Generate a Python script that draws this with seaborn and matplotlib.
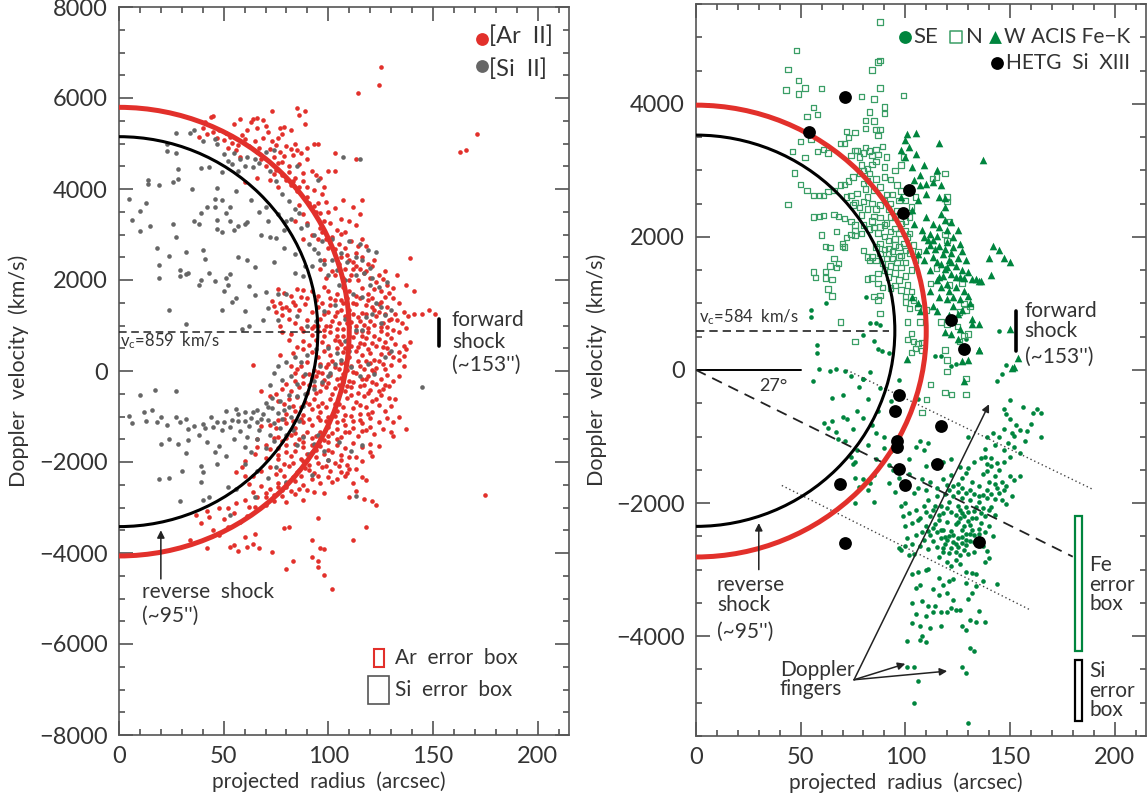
import matplotlib
matplotlib.use("Agg")
import matplotlib.pyplot as plt
import pandas as pd
import seaborn as sns
from matplotlib.patches import Ellipse, Rectangle
from matplotlib.ticker import MultipleLocator

sns.set_style("white")
plt.rcParams["font.family"] = ["Lato", "DejaVu Sans"]
plt.rcParams["mathtext.default"] = "regular"

# (projected radius arcsec, doppler km/s)
ar_points = [
    (41,5480),(44,5590),(45,5600),(40,5350),(38,5150),(42,5200),(45,5250),(48,5300),(50,5080),(53,5150),(55,5420),
    (60,5100),(62,4950),(58,5540),(63,5480),(61,5300),(64,5530),(66,5340),(66,5560),(69,5520),(70,5380),(71,5250),
    (73,5050),(76,5120),(78,5200),(79,5360),(80,4950),(84,5000),(85,4850),(87,4800),(90,4900),(93,5000),(95,4980),
    (85,5780),(86,5620),(89,5720),(89,5420),(82,5300),(73,5710),(77,5350),(103,4800),(113,4650),(103,4400),(90,4650),
    (125,6680),(124,6290),(114,6110),(171,5200),(163,4810),(166,4855),(52,4900),(56,4850),(58,4700),(66,4820),(68,4650),
    (70,4500),(72,4880),(74,4700),(75,4420),(78,4600),(78,4300),(81,4500),(83,4750),(84,4250),(86,4550),(88,4350),
    (92,4400),(94,4300),(96,4250),(98,4050),(100,4400),(97,3900),(95,3700),(93,3980),(90,4050),(85,3950),(82,4080),
    (80,4200),(76,4050),(72,4200),(66,4250),(60,4150),(107,3750),(116,3750),(115,3450),(112,3600),(103,3580),(106,3350),
    (110,3300),(113,3200),(108,3050),(104,3100),(100,3500),(98,3300),(96,3150),(94,3500),(91,3700),(88,3450),(86,3650),
    (84,3300),(90,3250),(102,2950),(105,2800),(108,2700),(111,2850),(113,2600),(116,2900),(118,2750),(100,2700),(98,2450),
    (95,2900),(92,3000),(88,2900),(110,2450),(113,2300),(116,2500),(119,2350),(122,2450),(124,2100),(127,2200),(120,2050),
    (117,2150),(114,2000),(111,2100),(108,2250),(105,2350),(102,2200),(99,2050),(96,2250),(133,2100),(137,1900),(139,2480),
    (141,1760),(131,1830),(128,1880),(125,1750),(122,1800),(119,1700),(116,1820),(113,1650),(110,1750),(107,1850),(104,1700),
    (101,1600),(98,1850),(95,1650),(92,1750),(88,1780),(85,1800),(82,1650),(79,1720),(76,1800),(73,1530),(74,1420),(77,1500),
    (80,1400),(83,1520),(86,1350),(89,1480),(92,1300),(95,1400),(98,1250),(101,1450),(104,1300),(107,1500),(110,1350),
    (113,1480),(116,1280),(119,1550),(122,1350),(125,1520),(128,1400),(131,1600),(134,1500),(136,1300),(138,1200),(141,1260),
    (145,1260),(148,1330),(151,1250),(132,1250),(129,1130),(126,1050),(123,1200),(120,1100),(117,1020),(114,1180),(111,1080),
    (108,1200),(105,1050),(102,1100),(99,980),(96,1150),(93,1000),(90,1120),(87,950),(84,1050),(81,1150),(78,1230),(75,1300),
    (77,980),(78,860),(82,820),(88,870),(92,800),(95,870),(98,900),(101,850),(104,780),(107,920),(110,960),(113,850),
    (116,880),(119,950),(122,780),(125,870),(128,960),(131,900),(134,850),(137,950),(130,720),(127,640),(124,700),(121,620),
    (118,720),(115,620),(112,750),(109,680),(106,600),(103,690),(100,560),(97,630),(94,680),(91,580),(88,650),(85,520),
    (81,680),(77,350),(83,400),(88,480),(92,410),(95,300),(98,450),(101,350),(104,500),(107,420),(110,300),(113,450),(116,350),
    (119,480),(122,250),(125,380),(128,500),(131,310),(134,420),(136,320),(136,550),(139,640),(137,480),(136,100),(126,160),
    (123,60),(120,180),(117,50),(114,230),(111,100),(108,180),(105,40),(102,220),(99,80),(96,150),(93,20),(90,200),(87,100),
    (64,140),(84,-40),(88,-110),(92,-150),(95,-30),(98,-200),(101,-90),(104,-170),(107,-60),(110,-210),(113,-40),(116,-180),
    (119,-100),(122,-30),(125,-170),(128,-80),(131,-230),(134,-110),(129,-320),(126,-400),(123,-280),(120,-420),(117,-310),
    (114,-480),(111,-350),(108,-440),(105,-300),(102,-510),(99,-360),(96,-430),(93,-330),(90,-480),(86,-350),(82,-430),(78,-400),
    (75,-500),(68,-430),(72,-560),(76,-660),(81,-620),(85,-580),(89,-680),(93,-620),(97,-700),(101,-620),(105,-720),(109,-600),
    (113,-680),(117,-560),(121,-650),(125,-530),(129,-590),(132,-620),(130,-770),(127,-870),(124,-750),(121,-900),(118,-800),
    (115,-950),(112,-820),(108,-960),(104,-870),(100,-1000),(96,-900),(92,-830),(88,-970),(84,-880),(80,-940),(76,-1080),
    (72,-1190),(68,-1210),(75,-1250),(80,-1150),(84,-1260),(88,-1120),(92,-1190),(96,-1080),(100,-1220),(104,-1130),(108,-1190),
    (112,-1090),(116,-1150),(120,-1040),(124,-1110),(128,-1030),(131,-1130),(134,-1000),(130,-1340),(126,-1280),(122,-1380),
    (118,-1300),(114,-1420),(110,-1340),(106,-1450),(102,-1370),(98,-1510),(94,-1420),(90,-1350),(86,-1490),(82,-1410),(78,-1540),
    (74,-1480),(66,-1500),(66,-1680),(70,-1620),(76,-1700),(80,-1630),(84,-1750),(88,-1660),(92,-1770),(96,-1650),(100,-1740),
    (104,-1620),(108,-1700),(112,-1590),(116,-1680),(120,-1600),(124,-1650),(131,-1420),(137,-1280),(120,-1790),(121,-1860),
    (113,-1880),(106,-1840),(100,-1950),(94,-1900),(88,-1980),(82,-1870),(76,-1940),(70,-1920),(65,-1830),(60,-1970),(56,-2230),
    (59,-2120),(60,-2310),(64,-2300),(68,-2200),(72,-2110),(77,-2180),(81,-2090),(85,-2230),(89,-2140),(93,-2250),(97,-2120),
    (101,-2200),(105,-2090),(109,-2240),(113,-2160),(116,-2330),(118,-2400),(112,-2470),(108,-2310),(104,-2380),(100,-2320),
    (96,-2460),(92,-2380),(88,-2500),(84,-2410),(80,-2550),(76,-2470),(72,-2590),(68,-2520),(64,-2650),(62,-2480),(78,-2750),
    (84,-2700),(88,-2830),(93,-2660),(98,-2690),(110,-2760),(113,-2630),(117,-2810),(121,-2850),(123,-2950),(80,-2880),(74,-2860),
    (70,-2950),(65,-2980),(60,-2830),(56,-2900),(52,-3020),(48,-3000),(42,-3080),(37,-3170),(43,-3200),(55,-3130),(61,-3190),
    (58,-3320),(50,-3260),(39,-3330),(45,-3500),(52,-3430),(48,-3600),(34,-3710),(42,-3880),(55,-3820),(60,-3650),(65,-3590),
    (53,-3870),(57,-3950),(61,-3870),(64,-3810),(67,-3880),(73,-3980),(79,-3460),(81,-3430),(95,-3240),(92,-3720),(96,-3900),
    (98,-3910),(92,-4090),(95,-4180),(95,-4310),(83,-4180),(80,-4360),(98,-4490),(102,-4790),(112,-3720),(118,-3420),(175,-2725),
]
ar_dense = [
    (47,5120),(51,5240),(54,5020),(57,4960),(59,5190),(65,5060),(67,4900),(69,5110),(75,4960),(77,4820),(82,4880),(79,4720),(76,4580),
    (74,4340),(81,4380),(83,4180),(86,4050),(88,4180),(90,3820),(93,3620),(96,3480),(99,3720),(101,3250),(97,3050),(99,2900),(103,2680),
    (106,3020),(109,2550),(112,2400),(114,2750),(106,2500),(103,2100),(107,2050),(110,2000),(112,2250),(115,2250),(118,2200),(121,2300),
    (123,1950),(126,2020),(129,1720),(127,1620),(124,1480),(121,1600),(118,1450),(115,1600),(112,1500),(109,1600),(106,1550),(103,1550),
    (100,1750),(97,1500),(94,1550),(90,1600),(87,1620),(84,1450),(81,1350),(78,1380),(100,1300),(103,1200),(106,1350),(109,1050),(112,1250),
    (115,1100),(118,1250),(121,1400),(124,1300),(127,1250),(130,1150),(133,1120),(135,1050),(128,820),(125,960),(122,1020),(119,850),(116,770),
    (113,1000),(110,780),(107,780),(104,930),(101,1000),(98,780),(95,1000),(92,950),(105,650),(108,500),(111,550),(114,520),(117,600),(120,400),
    (123,550),(126,520),(129,400),(132,600),(134,250),(130,130),(127,50),(124,230),(121,30),(118,230),(115,120),(112,-20),(109,30),(106,170),
    (103,80),(100,160),(97,-50),(94,-100),(91,-70),(85,40),(82,120),(127,-300),(124,-450),(121,-250),(118,-180),(115,-320),(112,-250),(109,-330),
    (106,-160),(103,-380),(100,-270),(97,-280),(94,-480),(91,-300),(88,-260),(84,-230),(80,-280),(123,-620),(119,-480),(115,-750),(111,-520),
    (107,-800),(103,-720),(99,-800),(95,-760),(91,-730),(87,-800),(83,-760),(79,-720),(119,-950),(115,-1080),(111,-980),(107,-1080),(103,-980),
    (99,-1100),(95,-1000),(91,-1060),(87,-1060),(83,-1100),(79,-1050),(120,-1220),(116,-1320),(112,-1250),(108,-1350),(104,-1280),(100,-1420),
    (96,-1340),(92,-1480),(88,-1420),(84,-1370),(80,-1480),(76,-1450),(104,-1500),(100,-1560),(96,-1500),(92,-1620),(88,-1560),(84,-1610),
    (80,-1780),(76,-1840),(72,-1720),(90,-1830),(94,-1730),(98,-1830),(102,-1780),(106,-1950),(110,-1900),(116,-1980),(109,-2060),(103,-2020),
    (99,-2090),(95,-2020),(91,-2070),(87,-1930),(83,-2020),(79,-2050),(75,-2270),(79,-2300),(83,-2340),(87,-2310),(91,-2180),(95,-2310),(102,-2430),
    (106,-2220),(110,-2150),(90,-2620),(86,-2600),(82,-2640),(78,-2620),(74,-2720),(70,-2680),(76,-2560),(80,-2460),(66,-2770),(70,-2780),(62,-2980),
]
si_points = [
    (23,5000),(27,5230),(34,5230),(36,5290),(23,4830),(27,4800),(40,5060),(46,5100),(47,5000),(50,4780),(55,4800),(58,4650),
    (60,4500),(65,4650),(67,4580),(70,4820),(74,4850),(85,4500),(95,4200),(107,4700),(115,4650),(28,4450),(39,4460),(43,4490),
    (49,4380),(14,4200),(14,4120),(19,4080),(28,4220),(26,4150),(35,4000),(47,4030),(56,3950),(13,3700),(5,3780),(10,3510),
    (6,3320),(15,3180),(10,3080),(26,3220),(39,3470),(42,3600),(46,3600),(46,3780),(49,3760),(51,3470),(53,3600),(36,3290),
    (38,3240),(47,3320),(47,3120),(49,3060),(53,3300),(57,3180),(60,3230),(61,3280),(55,3100),(63,3760),(67,3500),(71,3300),
    (70,3600),(76,3460),(80,3300),(68,3000),(72,2950),(75,2920),(79,3100),(82,3350),(86,3480),(90,3200),(93,3000),(27,2950),
    (18,2700),(24,2530),(32,2620),(40,2650),(41,2470),(19,2330),(29,2230),(32,2140),(33,2160),(19,2050),(29,2090),(39,2000),
    (38,1880),(43,2150),(46,1980),(51,2050),(53,2140),(57,2510),(61,2450),(65,2290),(52,1900),(50,1750),(62,1860),(65,1660),
    (56,1600),(70,1740),(74,2390),(79,2710),(84,2570),(89,2300),(93,2680),(97,2850),(102,2900),(106,2600),(110,2850),(115,2800),
    (119,2670),(123,2610),(120,2270),(116,2450),(113,2100),(108,2000),(104,2220),(100,2100),(96,2450),(92,2300),(88,2080),(84,2150),
    (80,1700),(76,1690),(71,1380),(54,1510),(49,1330),(60,1310),(24,1340),(32,1040),(62,980),(59,920),(69,1120),(76,1130),
    (85,1200),(90,1000),(94,1100),(98,1310),(103,1450),(108,1150),(112,1700),(116,1620),(120,1900),(124,1850),(128,1950),(130,1350),
    (127,1230),(123,1500),(118,1180),(113,900),(108,650),(104,400),(100,500),(94,480),(90,350),(87,200),(84,300),(80,200),
    (76,100),(74,-50),(72,-300),(78,-200),(82,-120),(85,-280),(89,-60),(93,-220),(96,120),(100,-100),(103,150),(107,-240),
    (111,90),(115,-120),(119,160),(122,-60),(127,300),(130,450),(145,-350),(17,-420),(10,-520),(27,-440),(5,-990),(12,-900),
    (16,-850),(20,-1020),(6,-1140),(13,-1100),(18,-1130),(23,-1180),(27,-1000),(29,-1130),(32,-1050),(33,-1280),(36,-1210),(40,-1160),
    (44,-1000),(47,-1110),(51,-870),(56,-830),(60,-900),(63,-1040),(66,-1130),(69,-950),(71,-1080),(73,-820),(76,-920),(79,-860),
    (82,-1000),(86,-1100),(88,-760),(70,-700),(73,-600),(77,-660),(81,-520),(66,-860),(62,-1200),(57,-1100),(53,-1220),(49,-1300),
    (45,-1240),(41,-1250),(38,-1400),(33,-1510),(28,-1600),(24,-1500),(20,-1600),(32,-1800),(42,-1550),(46,-1780),(48,-1650),(51,-1870),
    (55,-1500),(60,-1680),(63,-1780),(70,-1700),(74,-1540),(80,-1400),(85,-1620),(91,-1820),(95,-1400),(100,-1950),(105,-1560),(111,-1750),
    (116,-1620),(40,-2220),(39,-2090),(47,-2050),(30,-2200),(24,-2350),(19,-2380),(39,-2450),(43,-2780),(40,-2840),(29,-2860),(52,-2540),
    (56,-2600),(60,-2050),(66,-2200),(71,-2350),(75,-2100),(80,-2440),(86,-2180),(92,-2280),(53,-3170),(113,-2740),(65,-2760),
    (52,4620),(54,4550),(57,4400),(61,4710),(64,4480),(72,4400),(75,4180),(78,3900),(81,3730),(84,3550),(87,3150),(91,2800),(95,2600),(98,2350),
    (102,2450),(105,1900),(109,2400),(113,2500),(117,2150),(121,2050),(125,1400),(125,1050),(121,1250),(116,900),(110,450),(106,250),(101,-40),
    (97,-250),(93,-400),(89,-500),(85,-550),(81,-800),(78,-1050),(74,-1150),(71,-800),(68,-1050),(64,-900),(60,-1100),(57,-950),(54,-1080),(50,-1130),
    (67,-1300),(72,-1400),(77,-1250),(83,-1300),(88,-1450),(93,-1600),(98,-1750),(66,-1500),(61,-1450),(58,-1320),
]
se_points = [
    (70,-370),(64,-15),(65,-420),(74,-90),(80,-140),(78,-250),(82,-440),(87,-620),(88,-270),(93,-470),(97,-600),(72,-730),(61,-800),(65,-770),
    (63,-870),(67,-930),(70,-700),(75,-880),(68,-1030),(77,-620),(80,-720),(84,-830),(86,-950),(90,-1000),(82,-1130),(77,-1200),(74,-1300),
    (71,-1060),(76,-1380),(86,-1330),(90,-1170),(93,-1220),(92,-1430),(94,-1500),(97,-1620),(85,-1580),(83,-1700),(80,-1640),(76,-1620),
    (75,-1420),(82,-1810),(92,-1700),(95,-1830),(102,-1330),(105,-1160),(107,-1060),(109,-1200),(110,-1440),(111,-1090),(113,-1400),
    (118,-1380),(122,-1330),(126,-1460),(130,-1470),(133,-1380),(136,-1320),(138,-1300),(139,-1420),(139,-1520),(141,-1450),(143,-1600),
    (145,-1500),(147,-1380),(146,-1680),(150,-1590),(152,-1650),(155,-1600),(148,-1750),(144,-1780),(140,-1690),(137,-1560),(135,-1750),
    (132,-1680),(129,-1550),(127,-1620),(125,-1720),(122,-1580),(120,-1730),(118,-1640),(115,-1780),(112,-1690),(110,-1800),(108,-1640),
    (106,-1770),(104,-1850),(102,-1560),(100,-2000),(98,-2050),(99,-2200),(102,-2150),(105,-2100),(107,-2230),(109,-2040),(111,-1950),
    (113,-2100),(115,-1900),(117,-2050),(119,-1870),(121,-1990),(123,-1890),(125,-2040),(127,-1920),(129,-2060),(131,-1960),(133,-2120),
    (135,-1990),(137,-2080),(139,-1930),(141,-2060),(143,-2180),(146,-1960),(148,-2010),(151,-1900),(100,-2350),(103,-2300),(106,-2260),
    (108,-2430),(110,-2340),(112,-2480),(114,-2310),(116,-2260),(118,-2410),(120,-2290),(122,-2420),(124,-2320),(126,-2230),(128,-2350),
    (130,-2270),(132,-2400),(134,-2230),(136,-2300),(138,-2430),(140,-2340),(142,-2500),(101,-2530),(103,-2610),(105,-2480),(107,-2640),
    (109,-2560),(111,-2690),(113,-2570),(115,-2660),(117,-2520),(119,-2620),(121,-2750),(123,-2580),(125,-2660),(127,-2510),(129,-2630),
    (131,-2570),(133,-2730),(137,-2640),(139,-2720),(140,-2820),(138,-2880),(98,-2710),(100,-2650),(104,-2760),(102,-2780),(97,-2680),
    (116,-2810),(118,-2730),(120,-2880),(122,-2950),(124,-2850),(126,-2920),(129,-3040),(132,-3050),(134,-3060),(110,-3000),(106,-3040),
    (111,-2990),(103,-3060),(116,-3130),(118,-3230),(121,-3170),(123,-3140),(129,-3200),(134,-3250),(137,-3170),(144,-3220),(107,-3230),
    (105,-3280),(113,-3290),(116,-3380),(120,-3350),(123,-3460),(130,-3440),(132,-3350),(103,-3500),(108,-3470),(111,-3550),(114,-3540),
    (117,-3640),(120,-3630),(122,-3570),(124,-3610),(105,-3670),(110,-3700),(113,-3630),(126,-3610),(131,-3760),(134,-3790),(138,-3790),
    (135,-3620),(103,-3800),(107,-3840),(112,-3870),(117,-3840),(129,-3900),(127,-3850),(108,-4000),(101,-4070),(107,-4050),(110,-4090),
    (131,-4180),(133,-4220),(101,-4460),(104,-4470),(127,-4460),(129,-4560),(106,-4680),(104,-5000),(130,-5300),(144,-170),(146,-60),
    (130,-1010),(148,-660),(150,-730),(156,-550),(161,-640),(163,-590),(165,-650),(160,-810),(158,-910),(165,-1000),(157,-1070),(155,-1250),
    (152,-1150),(149,-1090),(147,-880),(145,-1000),(142,-940),(139,-1000),(150,-450),(147,-580),(152,-990),(78,-1760),(85,-1990),(76,-2000),
    (62,1000),(81,1100),(55,900),(55,800),(58,370),(58,260),(83,700),(86,700),(88,680),(80,530),(85,430),(87,320),(89,290),(92,250),(59,15),
    (67,20),(71,-20),(83,-30),(80,-130),(97,-150),(106,-430),(56,-160),(114,210),(117,210),(122,60),(124,90),(129,460),(145,590),(148,70),
    (120,-2080),(122,-2130),(124,-2180),(126,-2110),(128,-2200),(130,-2140),(132,-2230),(134,-2060),(136,-2150),(138,-2200),(140,-2100),
    (118,-2150),(116,-2180),(114,-2050),(112,-2200),(110,-2130),(125,-2280),(127,-2410),(129,-2470),(131,-2330),(133,-2480),(135,-2390),
    (123,-2480),(121,-2500),(119,-2510),(117,-2400),(115,-2440),(113,-2380),(111,-2420),(125,-2530),(127,-2600),(129,-2550),(131,-2470),
    (133,-2590),(135,-2470),(124,-2620),(122,-2680),(120,-2560),(118,-2680),(128,-2700),(126,-2780),(124,-2730),(130,-2760),(127,-2150),
    (137,-1880),(139,-1800),(141,-1860),(143,-1940),(145,-1850),(143,-1720),(147,-1800),(133,-1860),(135,-1900),(131,-1800),(129,-1850),(127,-1780),
    (125,-1830),(123,-1750),(121,-1800),(144,-1400),(141,-1320),(138,-1180),(143,-1120),(151,-950),(153,-820),(155,-900),(147,-1200),(150,-1300),
]
n_points = [
    (88,5230),(48,4800),(44,4515),(49,4350),(87,4630),(88,4650),(84,4510),(43,4210),(49,4150),(52,4235),(60,4230),(88,4235),(99,4125),(79,4110),
    (85,4075),(56,3945),(90,3950),(90,3850),(83,3875),(53,3810),(58,3840),(81,3750),(85,3740),(81,3630),(86,3610),(88,3610),(72,3585),(76,3565),
    (73,3495),(87,3520),(50,3430),(55,3470),(69,3405),(71,3405),(46,3285),(58,3285),(61,3310),(63,3260),(52,3190),(47,2960),(50,2790),(53,2700),
    (56,2620),(59,2620),(61,2620),(63,2680),(44,2490),(56,2300),(59,2310),(61,2320),(66,2340),(68,2310),(71,2280),(60,2030),(67,2080),(70,1900),
    (72,1990),(74,2040),(62,1860),(64,1840),(71,1850),(66,1680),(68,1600),(64,1560),(67,1540),(62,1480),(56,1470),(57,1390),(62,1380),(65,1360),
    (63,1220),(65,1110),(88,850),(69,720),(76,430),(82,1370),(87,1300),(89,1240),(88,1120),(85,1100),(87,1050),(80,1800),(84,1700),(83,1650),(82,1700),
    (70,1860),(76,2100),(79,2050),(76,2020),(76,2180),(74,2230),(80,2180),(83,2120),(85,2140),(88,2150),(90,2010),(92,1950),(95,1970),(97,1850),
    (99,1900),(101,2000),(88,1900),(86,1850),(90,1810),(92,1750),(94,1680),(96,1620),(98,1720),(100,1800),(89,1600),(93,1560),(95,1460),(97,1350),
    (100,1410),(103,1500),(105,1650),(93,1230),(98,1200),(100,1100),(100,1020),(104,1050),(102,920),(106,940),(110,900),(107,720),(101,720),(103,550),
    (101,460),(104,430),(106,400),(108,410),(105,320),(103,260),(108,290),(119,300),(120,150),(120,-20),(112,-220),(110,-440),(108,-640),(119,-340),
    (122,-370),(129,-370),(66,2700),(69,2780),(71,2790),(73,2840),(75,2900),(78,2950),(80,3000),(82,3030),(84,3090),(86,3130),(78,3200),(80,3260),
    (83,3290),(86,3310),(89,3360),(76,3300),(74,3220),(72,2600),(74,2620),(76,2520),(78,2440),(80,2530),(82,2600),(84,2500),(86,2420),(88,2480),
    (90,2550),(92,2420),(94,2640),(96,2780),(98,2690),(88,2750),(86,2870),(90,2900),(93,2860),(95,3000),(85,2310),(88,2290),(91,2210),(93,2300),
    (95,2130),(98,2200),(100,2100),(102,2300),(96,2400),(100,2550),(103,2450),(105,2600),(91,3200),(90,3050),(98,3080),(99,3200),(80,2800),(82,2850),
    (119,2950),(115,2900),(113,2880),(120,2600),(120,2530),(121,2230),(119,2040),(120,1950),(115,1530),(112,1300),(121,1280),(127,1300),(128,1000),
    (131,950),(126,870),(129,900),(117,720),(120,680),(125,650),(128,520),(130,540),(126,430),(129,-130),
    (77,3300),(81,3340),(84,3220),(87,3240),(79,3080),(83,2950),(85,2700),(81,2720),(77,2650),(75,2480),(79,2330),(82,2420),(84,2240),(87,2060),(90,2180),
    (93,2080),(95,1880),(97,2050),(100,2240),(92,1830),(94,1780),(97,1700),(100,1620),(102,1760),(91,1680),(88,1750),(86,1650),(90,1500),(92,1400),
    (87,1450),(84,1380),(98,1540),(101,1280),(103,1180),(95,1270),(91,2640),(93,2500),(95,2300),(97,2550),(99,2400),(102,2050),(104,1880),(106,1780),
]
w_points = [
    (100,3460),(102,3350),(105,3250),(101,3550),(105,3560),(116,3410),(137,3160),(100,3200),(98,3300),(109,3080),(103,3050),(107,2930),(115,3000),
    (104,2850),(107,2780),(110,2790),(113,2830),(117,2780),(116,2600),(119,2580),(110,2640),(98,2600),(106,2550),(103,2400),(104,2200),(108,2100),
    (112,2050),(116,2150),(119,2250),(122,2230),(119,2450),(125,2100),(113,1950),(116,1860),(120,1920),(123,1850),(127,1790),(110,1800),(106,1750),
    (109,1650),(113,1700),(117,1600),(121,1660),(124,1560),(127,1500),(130,1470),(118,1420),(115,1350),(120,1290),(124,1400),(128,1380),(132,1370),
    (135,1330),(112,1180),(116,1090),(120,1060),(123,1100),(126,1070),(130,1110),(123,960),(127,900),(131,1000),(103,1090),(106,1000),(113,960),(107,890),
    (115,880),(121,820),(125,840),(132,770),(119,570),(122,540),(126,620),(135,690),(132,690),(150,620),(101,160),(125,460),(127,330),(130,150),(127,130),
    (152,40),(128,-170),(154,180),(151,30),(135,300),(135,300),(134,1370),(136,1330),(142,1870),(145,1810),(147,1680),(150,1620),(140,1680),(141,1430),
    (111,1950),(114,1820),(118,1750),(122,1760),(125,1680),(115,1620),(119,1520),(122,1450),(126,1400),(110,2300),(113,2200),(117,2350),(120,2100),(123,2000),
    (126,1900),(129,1650),(112,1500),(116,1400),(120,1550),(124,1250),(128,1180),(121,1180),(117,1240),(109,2000),(112,1880),(115,2020),(119,1820),(122,1620),
]
hetg_points = [
    (71,4100),(54,3580),(102,2700),(99,2360),(122,750),(128,310),(97,-370),(95,-620),(117,-845),(96,-1070),(96,-1160),(97,-1490),(115,-1420),(100,-1730),
    (69,-1710),(71,-2600),(135,-2580),
]

# shock ellipses: radius, centre velocity, velocity half-width
left_forward = (110, 865, 4930)
left_reverse = (95, 865, 4285)
right_forward = (110, 585, 3395)
right_reverse = (95, 590, 2940)

x_ticks = [0, 50, 100, 150, 200]
left_y_ticks = [-8000, -6000, -4000, -2000, 0, 2000, 4000, 6000, 8000]
right_y_ticks = [-4000, -2000, 0, 2000, 4000]

red = "#e2302b"
grey = "#666666"
green = "#00853e"
ink = "#333333"
fs = 15


def frame(points):
    return pd.DataFrame(points, columns=["r", "v"])


def dots(ax, points, color, marker="o", s=11, **kw):
    sns.scatterplot(data=frame(points), x="r", y="v", ax=ax, color=color, marker=marker, s=s,
                    linewidth=0, legend=False, **kw)


def style_axes(ax, ylim, yticks):
    ax.set_xlim(0, 215)
    ax.set_ylim(*ylim)
    ax.set_xticks(x_ticks)
    ax.set_yticks(yticks)
    ax.xaxis.set_minor_locator(MultipleLocator(10))
    ax.yaxis.set_minor_locator(MultipleLocator(500))
    ax.tick_params(which="major", direction="in", top=True, right=True, left=True, bottom=True, length=10, width=1.1,
                   color="#444444", labelsize=fs + 2, labelcolor=ink, pad=8)
    ax.tick_params(which="minor", direction="in", top=True, right=True, left=True, bottom=True, length=4.5,
                   width=1.1, color="#444444")
    for spine in ax.spines.values():
        spine.set_linewidth(1.2)
        spine.set_color("#555555")
    ax.set_xlabel("projected  radius  (arcsec)", fontsize=fs, color=ink, labelpad=3, x=0.467)
    ax.set_ylabel("Doppler  velocity  (km/s)", fontsize=fs + 0.5, color=ink, labelpad=7)


def shock(ax, params, color, lw):
    a, vc, b = params
    ax.add_patch(Ellipse((0, vc), 2 * a, 2 * b, fill=False, edgecolor=color, lw=lw, zorder=4))


def label(ax, x, y, s, size=fs, **kw):
    ax.text(x, y, s, fontsize=size, color=ink, va="center", zorder=6, **kw)


def arrow(ax, start, end):
    ax.annotate("", xy=end, xytext=start, zorder=6,
                arrowprops=dict(arrowstyle="-|>", color="#222222", lw=1.1, mutation_scale=11, shrinkA=0, shrinkB=0))


fig = plt.figure(figsize=(11.48, 7.98), dpi=100)
W, H = 1148.0, 798.0
ax1 = fig.add_axes([119 / W, 1 - 735 / H, 450 / W, 728 / H])
ax2 = fig.add_axes([696 / W, 1 - 736 / H, 450 / W, 732 / H])

# left panel
dots(ax1, ar_points + ar_dense, red)
dots(ax1, si_points, grey)
shock(ax1, left_forward, red, 3.6)
shock(ax1, left_reverse, "black", 2.2)
style_axes(ax1, (-8000, 8000), left_y_ticks)

ax1.plot([0, 97], [859, 859], color="#222222", lw=1.1, ls=(0, (5, 3)), zorder=3)
label(ax1, 0.5, 660, "v$_c$=859  km/s", size=12)
ax1.plot([153, 153], [560, 1140], color="black", lw=2.6)
label(ax1, 159, 1110, "forward")
label(ax1, 159, 630, "shock")
label(ax1, 159, 130, "(~153'')")
arrow(ax1, (20, -4570), (20, -3500))
label(ax1, 11, -4850, "reverse  shock")
label(ax1, 11, -5385, "(~95'')")

ax1.add_patch(Rectangle((122, -6500), 4.5, 390, fill=False, edgecolor=red, lw=1.5))
ax1.add_patch(Rectangle((119, -7320), 10, 620, fill=False, edgecolor="#555555", lw=1.2))
label(ax1, 132, -6300, "Ar  error  box")
label(ax1, 132, -7000, "Si  error  box")
dots(ax1, [(173.5, 7300)], red, s=85)
dots(ax1, [(173.5, 6700)], grey, s=85)
label(ax1, 177, 7360, "[Ar  II]", size=17)
label(ax1, 177, 6640, "[Si  II]", size=17)

# right panel
dots(ax2, se_points, green)
sns.scatterplot(data=frame(n_points), x="r", y="v", ax=ax2, marker="s", s=15, facecolor="none",
                edgecolor="#3a9e66", linewidth=0.9, legend=False)
dots(ax2, w_points, green, marker="^", s=30)
shock(ax2, right_forward, red, 3.6)
shock(ax2, right_reverse, "black", 2.2)
dots(ax2, hetg_points, "black", s=85, zorder=5)
style_axes(ax2, (-5500, 5500), right_y_ticks)

ax2.plot([0, 92], [584, 584], color="#222222", lw=1.2, ls=(0, (5, 3)), zorder=3)
label(ax2, 1.5, 790, "v$_c$=584  km/s", size=12)
ax2.plot([0, 50], [0, 0], color="black", lw=1.4)
ax2.plot([0, 180], [0, -2805], color="#222222", lw=1.3, ls=(0, (6, 4)), zorder=3)
ax2.plot([72, 190], [0, -1800], color="#444444", lw=1.0, ls=(0, (1, 2)), zorder=3)
ax2.plot([41, 160], [-1735, -3610], color="#444444", lw=1.0, ls=(0, (1, 2)), zorder=3)
label(ax2, 30, -240, "27°", size=13)

ax2.plot([153, 153], [290, 880], color="black", lw=2.6)
label(ax2, 157, 890, "forward")
label(ax2, 157, 580, "shock")
label(ax2, 157, 190, "(~153'')")
arrow(ax2, (30, -3000), (30, -2300))
label(ax2, 10, -3230, "reverse")
label(ax2, 10, -3530, "shock")
label(ax2, 10, -3940, "(~95'')")

arrow(ax2, (75.5, -4655), (140, -515))
arrow(ax2, (75.5, -4655), (100, -4415))
arrow(ax2, (75.5, -4655), (120, -4525))
label(ax2, 40, -4510, "Doppler")
label(ax2, 40, -4800, "fingers")

ax2.add_patch(Rectangle((181.3, -4218), 3.2, 2022, fill=False, edgecolor=green, lw=1.6))
ax2.add_patch(Rectangle((181.3, -5280), 3.2, 916, fill=False, edgecolor="black", lw=1.6))
label(ax2, 188, -2930, "Fe")
label(ax2, 188, -3230, "error")
label(ax2, 188, -3510, "box")
label(ax2, 188, -4530, "Si")
label(ax2, 188, -4830, "error")
label(ax2, 188, -5110, "box")

dots(ax2, [(100, 5010)], green, s=85)
label(ax2, 104, 5010, "SE", size=16)
sns.scatterplot(x=[124], y=[5010], ax=ax2, marker="s", s=75, facecolor="none", edgecolor="#3a9e66",
                linewidth=1.1, legend=False)
label(ax2, 129, 5010, "N", size=16)
dots(ax2, [(143, 5010)], green, marker="^", s=85)
label(ax2, 147, 5010, "W ACIS Fe\u2212K", size=15)
dots(ax2, [(144, 4610)], "black", s=85)
label(ax2, 148, 4610, "HETG  Si  XIII", size=15)

fig.savefig("out.png", dpi=100)
